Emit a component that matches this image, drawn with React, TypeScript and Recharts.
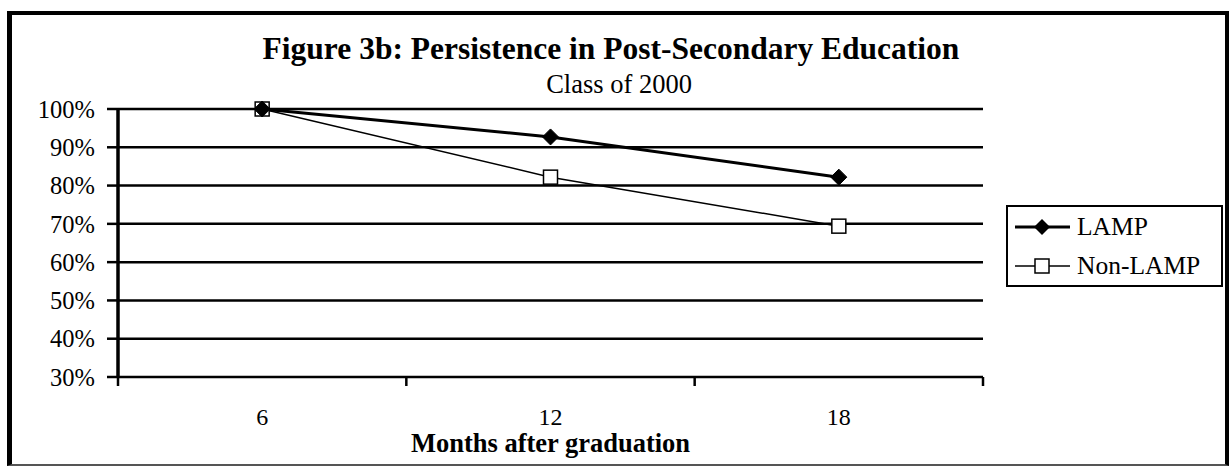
import React from 'react';
import { LineChart, Line, XAxis, YAxis, CartesianGrid, Legend } from 'recharts';

const months = ['6', '12', '18'];
const lampValues = [1.0, 0.927, 0.822];
const nonLampValues = [1.0, 0.822, 0.694];
const yTicks = [0.3, 0.4, 0.5, 0.6, 0.7, 0.8, 0.9, 1.0];
const bandEdges = [0, 1, 2, 3];
const bandCenters = [0.5, 1.5, 2.5];
const seriesNames = ['LAMP', 'Non-LAMP'];

const data = months.map((m, i) => ({
  pos: i + 0.5,
  month: m,
  lamp: lampValues[i],
  nonLamp: nonLampValues[i],
}));

const FONT = '"Liberation Serif", "Times New Roman", serif';

const Diamond = (props: any) => {
  const { cx, cy, index } = props;
  return <path key={`lamp-dot-${index}`} d={`M${cx - 8},${cy} L${cx},${cy - 8} L${cx + 8},${cy} L${cx},${cy + 8} Z`} fill="#000" stroke="#000" strokeWidth={1} />;
};

const Square = (props: any) => {
  const { cx, cy, index } = props;
  return <rect key={`nl-dot-${index}`} x={cx - 7} y={cy - 7} width={14} height={14} fill="#fff" stroke="#000" strokeWidth={1.5} />;
};

const LegendContent = () => (
  <div style={{ fontFamily: FONT, fontSize: 25.5, color: '#000' }}>
    {seriesNames.map((name, i) => (
      <div key={name} style={{ display: 'flex', alignItems: 'center', height: 39 }}>
        <svg width={66} height={20} style={{ display: 'block' }}>
          <line x1={7} y1={10} x2={62} y2={10} stroke="#000" strokeWidth={i === 0 ? 3 : 1.5} />
          {i === 0 ? (
            <path d="M26,10 L34,2 L42,10 L34,18 Z" fill="#000" />
          ) : (
            <rect x={27} y={3} width={14} height={14} fill="#fff" stroke="#000" strokeWidth={1.5} />
          )}
        </svg>
        <span style={{ marginLeft: 3, lineHeight: '39px' }}>{name}</span>
      </div>
    ))}
  </div>
);

export default function App() {
  return (
    <div style={{ position: 'fixed', left: 0, top: 0, width: 1229, height: 466, background: '#fff', overflow: 'hidden' }}>
      <div
        style={{
          position: 'absolute',
          left: 7,
          top: 11,
          width: 1222,
          height: 455,
          boxSizing: 'border-box',
          borderLeft: '5px solid #000',
          borderTop: '4px solid #000',
          borderRight: '4px solid #000',
          borderBottom: '2px solid #555',
        }}
      />
      <svg width={1229} height={110} style={{ position: 'absolute', left: 0, top: 0 }}>
        <text x={611} y={59} textAnchor="middle" fontFamily={FONT} fontWeight="bold" fontSize={31.5} fill="#000">
          Figure 3b: Persistence in Post-Secondary Education
        </text>
        <text x={619} y={93} textAnchor="middle" fontFamily={FONT} fontSize={26.5} fill="#000">
          Class of 2000
        </text>
      </svg>
      <div style={{ position: 'absolute', left: 0, top: 0 }}>
        <LineChart width={1229} height={466} data={data} margin={{ top: 109, right: 29, bottom: 0, left: 8 }}>
          <XAxis
            xAxisId="b"
            type="number"
            dataKey="pos"
            domain={[0, 3]}
            ticks={bandCenters}
            tickFormatter={(v: number) => months[Math.floor(v)]}
            height={88}
            axisLine={false}
            tickLine={false}
            tickSize={0}
            tickMargin={30}
            interval={0}
            tick={{ fontFamily: FONT, fontSize: 24, fill: '#000' }}
            label={{ value: 'Months after graduation', position: 'insideBottom', offset: 14, fontFamily: FONT, fontSize: 26.5, fontWeight: 'bold', fill: '#000' }}
          />
          <XAxis
            xAxisId="a"
            type="number"
            dataKey="pos"
            domain={[0, 3]}
            ticks={bandEdges}
            tickFormatter={() => ''}
            height={1}
            axisLine={false}
            tickLine={{ stroke: '#000', strokeWidth: 2.5 }}
            tickSize={9}
            interval={0}
          />
          <YAxis
            yAxisId="l"
            domain={[0.3, 1]}
            ticks={yTicks}
            tickFormatter={(v: number) => `${Math.round(v * 100)}%`}
            width={110}
            axisLine={{ stroke: '#000', strokeWidth: 3.5 }}
            tickLine={{ stroke: '#000', strokeWidth: 2.5 }}
            tickSize={11}
            tickMargin={12}
            tick={{ fontFamily: FONT, fontSize: 24.5, fill: '#000' }}
            interval={0}
          />
          <YAxis
            yAxisId="r"
            orientation="right"
            domain={[0.3, 1]}
            width={0}
            tick={false}
            tickLine={false}
            axisLine={{ stroke: '#000', strokeWidth: 2 }}
          />
          <CartesianGrid xAxisId="b" yAxisId="l" vertical={false} horizontal={true} stroke="#000" strokeWidth={2.5} horizontalValues={yTicks} />
          <Legend
            layout="vertical"
            align="right"
            verticalAlign="middle"
            content={<LegendContent />}
            wrapperStyle={{
              right: 6,
              top: 205,
              width: 217,
              height: 82,
              border: '2px solid #000',
              boxSizing: 'border-box',
              background: '#fff',
            }}
          />
          <Line
            xAxisId="b"
            yAxisId="l"
            type="linear"
            dataKey="nonLamp"
            name="Non-LAMP"
            stroke="#000"
            strokeWidth={1.5}
            dot={Square}
            activeDot={false}
            isAnimationActive={false}
          />
          <Line
            xAxisId="b"
            yAxisId="l"
            type="linear"
            dataKey="lamp"
            name="LAMP"
            stroke="#000"
            strokeWidth={3}
            dot={Diamond}
            activeDot={false}
            isAnimationActive={false}
          />
        </LineChart>
      </div>
    </div>
  );
}
